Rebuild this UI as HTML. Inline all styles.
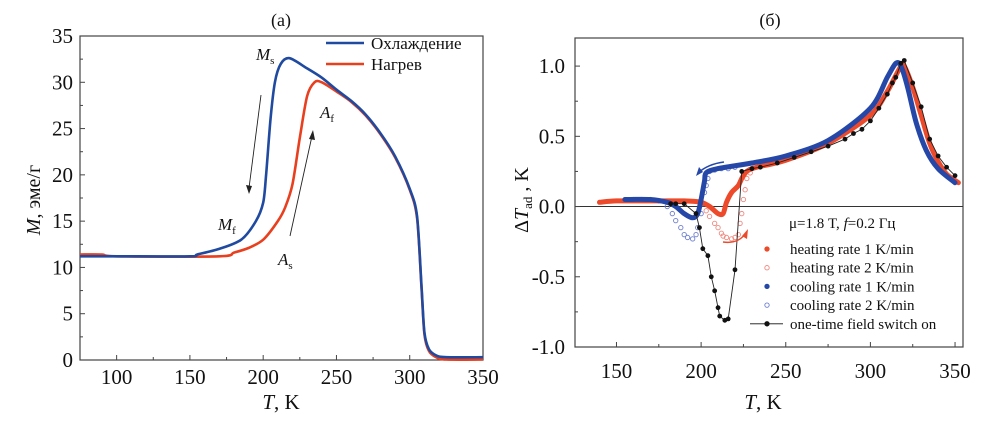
<!DOCTYPE html>
<html><head><meta charset="utf-8">
<style>
html,body{margin:0;padding:0;background:#fff;}
svg{display:block;font-family:"Liberation Serif","DejaVu Serif",serif;}
</style></head>
<body>
<svg id="fig" width="989" height="432" viewBox="0 0 989 432" xmlns="http://www.w3.org/2000/svg">
<g id="ga"></g>
<g id="gb"></g>
</svg>
<script>
// ---------- Chart (a) data ----------
const aXTicks = [100,150,200,250,300,350];
const aYTicks = [0,5,10,15,20,25,30,35];
const coolT = [75,100,150,155,170,185,195,200,202,205,208,212,218,230,240,250,260,270,280,290,300,305,308,310,313,318,325,350];
const coolM = [11.2,11.2,11.2,11.4,12,13,15,17,20,26,30,32,32.6,31.5,30.5,29.2,28,26.5,24.5,22,18.5,15.5,8,3,1.2,0.5,0.3,0.3];
const heatT = [75,90,100,170,180,190,200,210,215,220,225,230,235,240,250,260,270,280,290,300,305,308,310,313,318,325,350];
const heatM = [11.4,11.4,11.2,11.2,11.6,12.1,13,15,16.5,19,24,28.5,30,30,29,27.9,26.4,24.4,21.9,18.4,15.3,7.8,2.8,1.0,0.3,0.05,0.05];

// ---------- Chart (b) data ----------
const bXTicks = [150,200,250,300,350];
const bYTicks = [-1.0,-0.5,0.0,0.5,1.0];
const bYLabels = ["-1.0","-0.5","0.0","0.5","1.0"];
const h1T = [140,150,170,190,200,205,210,213,215,218,222,225,230,250,275,300,310,318,320,325,330,335,340,345,352];
const h1V = [0.03,0.04,0.04,0.04,0.03,0.0,-0.05,-0.05,0.03,0.1,0.15,0.22,0.27,0.33,0.45,0.65,0.82,1.0,1.0,0.85,0.65,0.45,0.32,0.23,0.17];
const c1T = [155,170,180,185,190,195,198,200,202,203,210,230,250,275,300,310,315,318,322,327,333,340,350];
const c1V = [0.05,0.05,0.03,0.0,-0.05,-0.08,-0.05,0.05,0.18,0.24,0.27,0.31,0.36,0.47,0.7,0.92,1.02,1.0,0.85,0.6,0.4,0.27,0.17];
const h2T = [180,190,200,203,205,208,210,212,213,215,218,220,222,223,224,225,226,227,229];
const h2V = [0.03,0.03,0.02,-0.03,-0.07,-0.12,-0.15,-0.19,-0.21,-0.22,-0.23,-0.22,-0.2,-0.12,-0.05,0.05,0.12,0.2,0.24];
const c2T = [160,165,170,175,180,183,185,188,190,192,195,197,198,200,201,202,203,204,205,208,212,216,220];
const c2V = [0.05,0.05,0.05,0.04,0.0,-0.05,-0.1,-0.15,-0.2,-0.22,-0.23,-0.2,-0.15,-0.05,0.02,0.1,0.15,0.2,0.25,0.26,0.27,0.27,0.28];
const otT = [182,185,190,197,199,201,204,206,208,210,211,214,216,220,224,230,235,245,255,265,275,285,290,295,300,305,310,313,315,318,320,325,330,335,340,345,350];
const otV = [0.02,0.02,0.02,-0.05,-0.15,-0.3,-0.35,-0.5,-0.6,-0.72,-0.78,-0.81,-0.8,-0.45,0.25,0.27,0.28,0.31,0.35,0.39,0.43,0.48,0.52,0.55,0.61,0.7,0.8,0.88,0.92,1.02,1.04,0.88,0.71,0.48,0.36,0.28,0.22];

const NS="http://www.w3.org/2000/svg";
function mk(parent,tag,attrs){const e=document.createElementNS(NS,tag);for(const k in attrs)e.setAttribute(k,attrs[k]);parent.appendChild(e);return e;}
function txt(parent,x,y,s,size,anchor,extra){const t=mk(parent,'text',Object.assign({x:x,y:y,'font-size':size,'text-anchor':anchor||'middle',fill:'#111'},extra||{}));t.innerHTML=s;return t;}
function smooth(pts){
  let d='M'+pts[0][0].toFixed(1)+','+pts[0][1].toFixed(1);
  for(let i=0;i<pts.length-1;i++){
    const p0=pts[i-1]||pts[i],p1=pts[i],p2=pts[i+1],p3=pts[i+2]||p2;
    const k=1/6*0.9;
    const c1=[p1[0]+(p2[0]-p0[0])*k,p1[1]+(p2[1]-p0[1])*k];
    const c2=[p2[0]-(p3[0]-p1[0])*k,p2[1]-(p3[1]-p1[1])*k];
    d+='C'+c1[0].toFixed(1)+','+c1[1].toFixed(1)+' '+c2[0].toFixed(1)+','+c2[1].toFixed(1)+' '+p2[0].toFixed(1)+','+p2[1].toFixed(1);
  }
  return d;
}

// ----- Chart A -----
const A={l:80,r:483,t:36,b:360,x0:75,x1:350,y0:0,y1:35};
const axA=v=>A.l+(v-A.x0)/(A.x1-A.x0)*(A.r-A.l);
const ayA=v=>A.b-(v-A.y0)/(A.y1-A.y0)*(A.b-A.t);
const ga=document.getElementById('ga');
let fr=mk(ga,'rect',{x:A.l,y:A.t,width:A.r-A.l,height:A.b-A.t,fill:'none',stroke:'#444','stroke-width':1.2});


for(let v=75;v<=350;v+=25){
  const tk=mk(ga,'line',{x1:axA(v),x2:axA(v),y1:A.b,y2:A.b-(v%50===0?5:3),stroke:'#444'});
  
  
}
aXTicks.forEach(v=>{const t=txt(ga,axA(v),A.b+24,v,21);
  
  });
for(let v=0;v<=35;v+=2.5){
  const tk=mk(ga,'line',{x1:A.l,x2:A.l+(v%5===0?5:3),y1:ayA(v),y2:ayA(v),stroke:'#444'});
  
  
}
aYTicks.forEach(v=>{const t=txt(ga,A.l-7,ayA(v)+7,v,21,'end');
  
  });
let t=txt(ga,281,26,'(a)',18);


t=txt(ga,281,409,'<tspan font-style="italic">T</tspan>, K',21);


t=txt(ga,0,0,'<tspan font-style="italic">M</tspan>, эме/г',20,'middle',{transform:'translate(40,200) rotate(-90)'});


function lineA(T,V,col,name){
  const d=smooth(T.map((x,i)=>[axA(x),ayA(V[i])]));
  const p=mk(ga,'path',{d:d,fill:'none',stroke:col,'stroke-width':2.6,'stroke-linejoin':'round'});
  
  
}
lineA(heatT,heatM,'#e8401f','heating-curve');
lineA(coolT,coolM,'#1f4aa0','cooling-curve');
let l1=mk(ga,'line',{x1:326,x2:364,y1:43,y2:43,stroke:'#1f4aa0','stroke-width':2.6});


t=txt(ga,371,49,'Охлаждение',17,'start');


let l2=mk(ga,'line',{x1:326,x2:364,y1:64,y2:64,stroke:'#e8401f','stroke-width':2.6});


t=txt(ga,371,70,'Нагрев',17,'start');


function ann(x,y,main,sub,name){const e=txt(ga,x,y,'<tspan font-style="italic">'+main+'</tspan><tspan font-size="11" dy="4">'+sub+'</tspan>',17,'start');
  
  }
ann(256,60,'M','s','label-ms');
ann(218,230,'M','f','label-mf');
ann(320,118,'A','f','label-af');
ann(278,265,'A','s','label-as');
let a1=mk(ga,'line',{x1:261,y1:95,x2:249,y2:188,stroke:'#222','stroke-width':0.9});


let h1=mk(ga,'path',{d:'M249,194 L246,185 L252,186 Z',fill:'#222'});


let a2=mk(ga,'line',{x1:290,y1:236,x2:312,y2:136,stroke:'#222','stroke-width':0.9});


let h2=mk(ga,'path',{d:'M313,130 L309,139 L315,140 Z',fill:'#222'});



// ----- Chart B -----
const B={l:575,r:963,t:38,b:347,x0:125.5,x1:354.7,y0:-1.0,y1:1.2};
const axB=v=>B.l+(v-B.x0)/(B.x1-B.x0)*(B.r-B.l);
const ayB=v=>B.b-(v-B.y0)/(B.y1-B.y0)*(B.b-B.t);
const gb=document.getElementById('gb');
fr=mk(gb,'rect',{x:B.l,y:B.t,width:B.r-B.l,height:B.b-B.t,fill:'none',stroke:'#444','stroke-width':1.2});


let zl=mk(gb,'line',{x1:B.l,x2:B.r,y1:ayB(0),y2:ayB(0),stroke:'#333','stroke-width':1});


for(let v=150;v<=350;v+=25){
  const tk=mk(gb,'line',{x1:axB(v),x2:axB(v),y1:B.b,y2:B.b-(v%50===0?5:3),stroke:'#444'});
  
  
}
bXTicks.forEach(v=>{const e=txt(gb,axB(v),B.b+31,v,21);
  
  });
for(let v=-1.0;v<=1.21;v+=0.25){
  const major=Math.abs(v*2-Math.round(v*2))<1e-6;
  const tk=mk(gb,'line',{x1:B.l,x2:B.l+(major?5:3),y1:ayB(v),y2:ayB(v),stroke:'#444'});
  
  
}
bYTicks.forEach((v,i)=>{const e=txt(gb,B.l-10,ayB(v)+7,bYLabels[i],21,'end');
  
  });
t=txt(gb,770,26,'(б)',18);


t=txt(gb,763,409,'<tspan font-style="italic">T</tspan>, K',21);


t=txt(gb,0,0,'Δ<tspan font-style="italic">T</tspan><tspan font-size="13" dy="4">ad</tspan><tspan dy="-4"> , K</tspan>',20,'middle',{transform:'translate(528,200) rotate(-90)'});



function pathB(T,V){return smooth(T.map((x,i)=>[axB(x),ayB(V[i])]));}
function openB(T,V,col,name){
  T.forEach((x,i)=>{const c=mk(gb,'circle',{cx:axB(x),cy:ayB(V[i]),r:2.2,fill:'none',stroke:col,'stroke-width':0.9});
    
    });
}
openB(c2T,c2V,'#6f7fd0','cooling-2-point');
openB(h2T,h2V,'#f08a80','heating-2-point');
let p=mk(gb,'path',{d:pathB(h1T,h1V),fill:'none',stroke:'#ec4a2a','stroke-width':5,'stroke-linejoin':'round','stroke-linecap':'round'});


p=mk(gb,'path',{d:pathB(c1T,c1V),fill:'none',stroke:'#2547a8','stroke-width':5,'stroke-linejoin':'round','stroke-linecap':'round'});


p=mk(gb,'path',{d:otT.map((x,i)=>(i?'L':'M')+axB(x).toFixed(1)+','+ayB(otV[i]).toFixed(1)).join(''),fill:'none',stroke:'#222','stroke-width':0.9});


otT.forEach((x,i)=>{const c=mk(gb,'circle',{cx:axB(x),cy:ayB(otV[i]),r:2.4,fill:'#111'});
  
  });
let ar=mk(gb,'path',{d:'M724,162 Q708,164 698,173',fill:'none',stroke:'#2547a8','stroke-width':1.5});


ar=mk(gb,'path',{d:'M696,176 L699,167 L703,172 Z',fill:'#2547a8'});


ar=mk(gb,'path',{d:'M723,242 Q738,244 745,234',fill:'none',stroke:'#ec4a2a','stroke-width':1.5});


ar=mk(gb,'path',{d:'M748,229 L747,239 L742,236 Z',fill:'#ec4a2a'});


t=txt(gb,789,228,'μ=1.8 T, <tspan font-style="italic">f</tspan>=0.2 Гц',15,'start');


const legItems=[['heating rate 1 K/min','#ec4a2a','fill'],['heating rate 2 K/min','#f08a80','open'],['cooling rate 1 K/min','#2547a8','fill'],['cooling rate 2 K/min','#6f7fd0','open'],['one-time field switch on','#111','line']];
legItems.forEach((it,i)=>{
  const y=249+i*18.7;
  if(it[2]==='line'){const ln=mk(gb,'line',{x1:750,x2:783,y1:y,y2:y,stroke:'#111','stroke-width':0.9});
    
    }
  const c=mk(gb,'circle',{cx:767,cy:y,r:2.2,fill:it[2]==='open'?'none':it[1],stroke:it[1],'stroke-width':0.9});
  
  
  const e=txt(gb,790,y+5,it[0],15,'start');
  
  
});
</script>
</body></html>
